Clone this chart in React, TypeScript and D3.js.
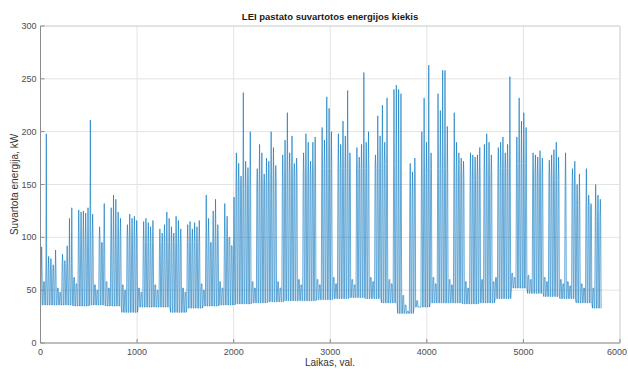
import React from 'react';
import * as d3 from 'd3';

// daily peak load (kW), one value per day (24 h)
const dailyPeak: number[] = [
  91, 58, 198, 82, 80, 74, 88,
  52, 48, 84, 78, 92, 118, 128,
  62, 56, 126, 124, 125, 123, 128,
  211, 122, 55, 50, 110, 95, 132,
  58, 52, 128, 140, 136, 124, 118,
  55, 50, 112, 122, 118, 120, 116,
  52, 48, 115, 118, 114, 110, 116,
  55, 50, 108, 104, 112, 124, 118,
  110, 104, 120, 116, 108, 52, 48,
  112, 115, 108, 114, 110, 116, 56,
  50, 140, 118, 95, 125, 136, 112,
  58, 52, 132, 120, 100, 92, 138,
  180, 170, 158, 237, 172, 166, 200,
  58, 52, 165, 188, 180, 160, 175,
  172, 200, 185, 168, 58, 52, 178,
  192, 218, 180, 196, 170, 175, 60,
  55, 180, 198, 190, 172, 190, 195,
  60, 55, 204, 192, 233, 222, 200,
  62, 56, 198, 188, 210, 196, 239,
  180, 60, 55, 185, 176, 188, 256,
  190, 200, 62, 58, 178, 215, 196,
  225, 190, 232, 60, 56, 240, 244,
  240, 236, 45, 36, 30, 170, 162,
  175, 40, 34, 200, 232, 190, 263,
  180, 62, 56, 236, 220, 258, 258,
  205, 60, 55, 218, 190, 180, 175,
  172, 58, 52, 180, 178, 176, 178,
  185, 60, 188, 198, 190, 178, 58,
  62, 185, 190, 195, 180, 188, 252,
  66, 62, 195, 232, 210, 218, 204,
  64, 60, 180, 178, 176, 182, 175,
  62, 58, 173, 178, 183, 190, 176,
  60, 56, 180, 58, 54, 165, 172,
  150, 160, 56, 52, 165, 140, 132,
  52, 150, 140, 136,
];

// night-time base load (kW), one value per week
const weeklyBase: number[] = [
  36, 36, 35, 36, 35, 29, 34, 34, 29, 33,
  35, 36, 37, 38, 39, 40, 40, 41, 42, 43,
  42, 38, 28, 34, 38, 38, 37, 38, 42, 52,
  47, 44, 42, 38, 33,
];

// typical working-hours load (kW), one value per week
const weeklyDay: number[] = [
  70, 75, 100, 100, 100, 100, 95, 95, 95, 95,
  100, 100, 150, 150, 155, 160, 160, 165, 165, 165,
  165, 170, 140, 160, 165, 160, 155, 160, 165, 170,
  160, 155, 150, 130, 120,
];

const xTicks = [0, 1000, 2000, 3000, 4000, 5000, 6000];
const yTicks = [0, 50, 100, 150, 200, 250, 300];

const W = 628;
const H = 369;
const m = { left: 40.5, right: 620, top: 26, bottom: 343 };

export default function App() {
  const x = d3.scaleLinear().domain([0, 6000]).range([m.left, m.right]);
  const y = d3.scaleLinear().domain([0, 300]).range([m.bottom, m.top]);

  // each day: base at night, working level, peak around midday
  const pts: [number, number][] = [];
  dailyPeak.forEach((p, d) => {
    const w = Math.floor(d / 7);
    const b = weeklyBase[w];
    const lvl = Math.min(weeklyDay[w], p);
    const t0 = d * 24;
    pts.push([t0 + 3, b]);
    pts.push([t0 + 8, lvl]);
    pts.push([t0 + 12, p]);
    pts.push([t0 + 16, lvl]);
    pts.push([t0 + 20, b]);
  });
  pts.push([5800, weeklyBase[weeklyBase.length - 1]]);

  const line = d3.line<[number, number]>()
    .x(d => x(d[0]))
    .y(d => y(d[1]));

  const font = '"Liberation Sans", Arial, sans-serif';
  const tickCol = '#4d4d4d';

  return (
    <svg width={W} height={H} style={{ position: 'absolute', left: 0, top: 0, background: '#fff' }} fontFamily={font}>
      {/* grid */}
      {yTicks.map(t => (
        <line key={'gy' + t} x1={m.left} x2={m.right} y1={y(t)} y2={y(t)} stroke="#e3e3e3" strokeWidth={1} />
      ))}
      {xTicks.map(t => (
        <line key={'gx' + t} x1={x(t)} x2={x(t)} y1={m.top} y2={m.bottom} stroke="#e3e3e3" strokeWidth={1} />
      ))}

      {/* box */}
      <line x1={m.left} x2={m.right} y1={m.top} y2={m.top} stroke="#d6d6d6" />
      <line x1={m.right} x2={m.right} y1={m.top} y2={m.bottom} stroke="#d6d6d6" />

      {/* data */}
      <path d={line(pts) || ''} fill="none" stroke="#0072BD" strokeWidth={0.75} strokeOpacity={0.8} strokeLinejoin="round" />

      {/* axes */}
      <line x1={m.left} x2={m.left} y1={m.top} y2={m.bottom} stroke="#8c8c8c" />
      <line x1={m.left} x2={m.right} y1={m.bottom} y2={m.bottom} stroke="#8c8c8c" />
      {yTicks.map(t => (
        <g key={'ty' + t}>
          <line x1={m.left} x2={m.left + 4} y1={y(t)} y2={y(t)} stroke="#8c8c8c" />
          <text x={m.left - 4} y={y(t) + 3} fontSize={9} fill={tickCol} textAnchor="end">{t}</text>
        </g>
      ))}
      {xTicks.map(t => (
        <g key={'tx' + t}>
          <line x1={x(t)} x2={x(t)} y1={m.bottom} y2={m.bottom - 4} stroke="#8c8c8c" />
          <text x={t === 6000 ? x(t) - 3 : x(t)} y={m.bottom + 12} fontSize={9} fill={tickCol} textAnchor="middle">{t}</text>
        </g>
      ))}

      {/* labels */}
      <text x={330} y={20} fontSize={9.5} fontWeight="bold" fill="#1a1a1a" textAnchor="middle">
        LEI pastato suvartotos energijos kiekis
      </text>
      <text x={330} y={366} fontSize={10} fill="#333" textAnchor="middle">Laikas, val.</text>
      <text transform={`translate(18,${(m.top + m.bottom) / 2}) rotate(-90)`} fontSize={10} fill="#333" textAnchor="middle">
        Suvartota energija, kW
      </text>
    </svg>
  );
}
